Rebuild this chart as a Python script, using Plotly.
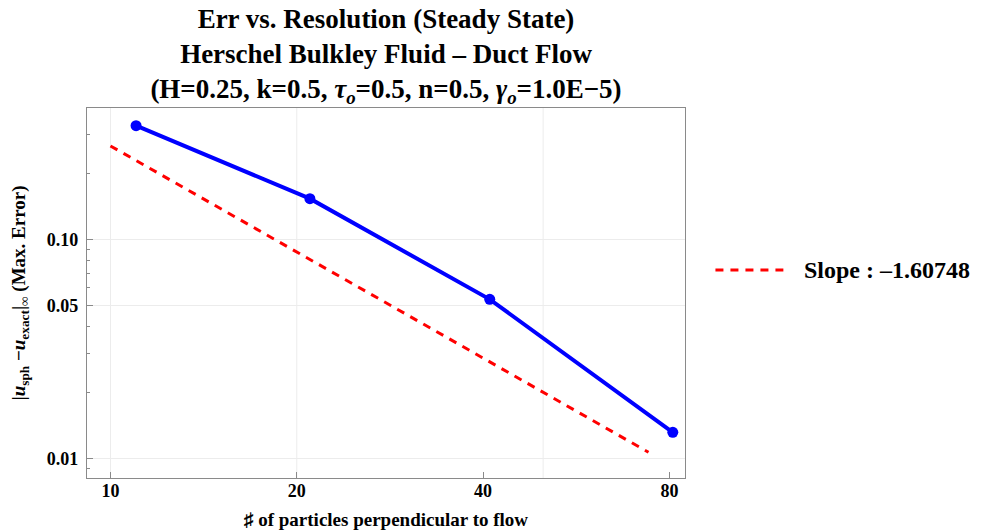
import plotly.graph_objects as go

# ---- data ----
resolution = [11, 21, 41, 81]
max_error = [0.3289, 0.1530, 0.0532, 0.01319]

slope_x = [10, 74]
slope_y = [0.266, 0.0107]
slope_label = "Slope : \u20131.60748"

x_tickvals = [10, 20, 40, 80]
x_ticktext = ["10", "20", "40", "80"]
x_gridvals = [10, 20, 50]

y_tickvals = [0.01, 0.05, 0.1]
y_ticktext = ["0.01", "0.05", "0.10"]
y_minorvals = [0.009, 0.02, 0.03, 0.04, 0.06, 0.07, 0.08, 0.09, 0.2, 0.3]

FONT = "Liberation Serif, Times New Roman, serif"
FRAME = "#8a8a8a"
GRID = "#ececec"

# the page body has an 8px margin, so the figure is sized to fit the window
W, H = 979, 523

fig = go.Figure()

fig.add_trace(go.Scatter(
    x=slope_x, y=slope_y, mode="lines", name=slope_label,
    line=dict(color="#ff0000", width=3, dash="8px,7px"),
    showlegend=False, hoverinfo="skip"))

fig.add_trace(go.Scatter(
    x=resolution, y=max_error, mode="lines+markers", name="Max. Error",
    line=dict(color="#0000ff", width=4),
    marker=dict(color="#0000ff", size=11),
    showlegend=False))

# vertical grid lines (Mathematica style: 10, 20, 50)
for gx in x_gridvals:
    fig.add_shape(type="line", xref="x", yref="paper", x0=gx, x1=gx, y0=0, y1=1,
                  line=dict(color=GRID, width=1), layer="below")

# custom legend (long dashed sample like the reference)
fig.add_shape(type="line", xref="paper", yref="paper",
              x0=1.0509, x1=1.1645, y0=0.5622, y1=0.5622,
              line=dict(color="#ff0000", width=3, dash="8px,7px"))
fig.add_annotation(xref="paper", yref="paper", x=1.1953, y=0.5622,
                   xanchor="left", yanchor="middle", showarrow=False,
                   text=slope_label,
                   font=dict(family=FONT, size=24, color="black", weight="bold"))

fig.update_layout(
    width=W, height=H,
    margin=dict(l=78.5, r=301.5, t=100, b=53, pad=0),
    paper_bgcolor="white", plot_bgcolor="white",
    font=dict(family=FONT, color="black"),
    title=dict(
        text="Err vs. Resolution (Steady State)<br>Herschel Bulkley Fluid \u2013 Duct Flow<br>"
             "(H=0.25, k=0.5, <i>\u03c4</i><sub><i>o</i></sub>=0.5, n=0.5, "
             "<i>\u03b3</i><sub><i>o</i></sub>=1.0E\u22125)",
        x=0.5, xref="paper", xanchor="center",
        y=1 - 20 / H, yref="container", yanchor="top",
        font=dict(family=FONT, size=27, color="black", weight="bold")),
    showlegend=False,
)

fig.update_xaxes(
    type="log", range=[0.9621, 1.9282], autorange=False,
    tickmode="array", tickvals=x_tickvals, ticktext=x_ticktext,
    ticks="inside", ticklen=6, tickwidth=1, tickcolor=FRAME,
    ticklabelstandoff=-4,
    showgrid=False, zeroline=False,
    showline=True, mirror=True, linecolor=FRAME, linewidth=1.3,
    tickfont=dict(family=FONT, size=18, color="black", weight="bold"),
    title=dict(text="\u266f of particles perpendicular to flow", standoff=12,
               font=dict(family=FONT, size=19, color="black", weight="bold")),
    automargin=False,
)

fig.update_yaxes(
    type="log", range=[-2.0879, -0.4023], autorange=False,
    tickmode="array", tickvals=y_tickvals, ticktext=y_ticktext,
    ticks="inside", ticklen=6, tickwidth=1, tickcolor=FRAME,
    ticklabelstandoff=4,
    showgrid=True, gridcolor=GRID, gridwidth=1, zeroline=False,
    showline=True, mirror=True, linecolor=FRAME, linewidth=1.3,
    minor=dict(tickmode="array", tickvals=y_minorvals, ticks="inside",
               ticklen=3, tickwidth=1, tickcolor=FRAME, showgrid=False),
    tickfont=dict(family=FONT, size=18, color="black", weight="bold"),
    title=dict(text="|<i>u</i><sub>sph</sub> \u2212<i>u</i><sub>exact</sub>|<sub>\u221e</sub> (Max. Error)",
               standoff=18,
               font=dict(family=FONT, size=19, color="black", weight="bold")),
    automargin=False,
)

fig.write_html("out.html")
